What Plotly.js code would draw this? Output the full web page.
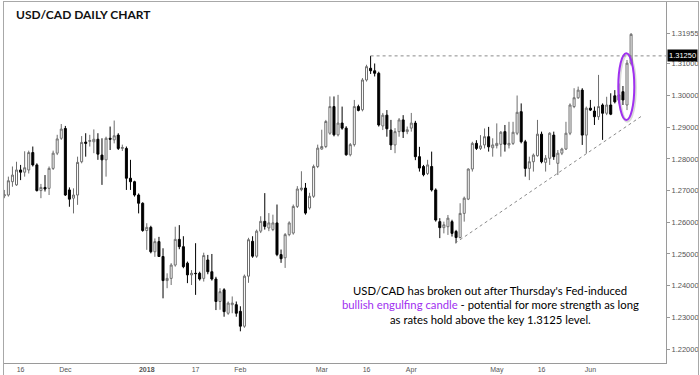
<!DOCTYPE html>
<html><head><meta charset="utf-8">
<script src="https://cdn.plot.ly/plotly-3.0.1.min.js"></script>
<style>
html,body{margin:0;padding:0;background:#fff;}
#wrap{position:relative;width:700px;height:375px;}
#chart{width:700px;height:375px;}
#frame{position:absolute;left:3px;top:1px;width:696px;height:374px;border:1px solid #a8a8a8;border-bottom:none;box-sizing:border-box;pointer-events:none;}
</style></head>
<body><div id="wrap"><div id="chart"></div><div id="frame"></div></div>
<script>
const dates = [
'2017-11-10','2017-11-13','2017-11-14','2017-11-15','2017-11-16','2017-11-17','2017-11-20','2017-11-21','2017-11-22','2017-11-23','2017-11-24','2017-11-27','2017-11-28','2017-11-29','2017-11-30',
'2017-12-01','2017-12-04','2017-12-05','2017-12-06','2017-12-07','2017-12-08','2017-12-11','2017-12-12','2017-12-13','2017-12-14','2017-12-15','2017-12-18','2017-12-19','2017-12-20','2017-12-21','2017-12-22','2017-12-26','2017-12-27','2017-12-28','2017-12-29',
'2018-01-01','2018-01-02','2018-01-03','2018-01-04','2018-01-05','2018-01-08','2018-01-09','2018-01-10','2018-01-11','2018-01-12','2018-01-15','2018-01-16','2018-01-17','2018-01-18','2018-01-19','2018-01-22','2018-01-23','2018-01-24','2018-01-25','2018-01-26','2018-01-29','2018-01-30','2018-01-31',
'2018-02-01','2018-02-02','2018-02-05','2018-02-06','2018-02-07','2018-02-08','2018-02-09','2018-02-12','2018-02-13','2018-02-14','2018-02-15','2018-02-16','2018-02-19','2018-02-20','2018-02-21','2018-02-22','2018-02-23','2018-02-26','2018-02-27','2018-02-28',
'2018-03-01','2018-03-02','2018-03-05','2018-03-06','2018-03-07','2018-03-08','2018-03-09','2018-03-12','2018-03-13','2018-03-14','2018-03-15','2018-03-16','2018-03-19','2018-03-20','2018-03-21','2018-03-22','2018-03-23','2018-03-26','2018-03-27','2018-03-28','2018-03-29','2018-03-30',
'2018-04-02','2018-04-03','2018-04-04','2018-04-05','2018-04-06','2018-04-09','2018-04-10','2018-04-11','2018-04-12','2018-04-13','2018-04-16','2018-04-17','2018-04-18','2018-04-19','2018-04-20','2018-04-23','2018-04-24','2018-04-25','2018-04-26','2018-04-27','2018-04-30',
'2018-05-01','2018-05-02','2018-05-03','2018-05-04','2018-05-07','2018-05-08','2018-05-09','2018-05-10','2018-05-11','2018-05-14','2018-05-15','2018-05-16','2018-05-17','2018-05-18','2018-05-21','2018-05-22','2018-05-23','2018-05-24','2018-05-25','2018-05-28','2018-05-29','2018-05-30','2018-05-31',
'2018-06-01','2018-06-04','2018-06-05','2018-06-06','2018-06-07','2018-06-08','2018-06-11','2018-06-12','2018-06-13','2018-06-14','2018-06-15'];

const open = [1.2683,1.2686,1.2728,1.2718,1.2765,1.2758,1.2765,1.2820,1.2781,1.2700,1.2710,1.2707,1.2770,1.2818,1.2865,
1.2896,1.2702,1.2676,1.2686,1.2791,1.2853,1.2855,1.2854,1.2862,1.2812,1.2797,1.2865,1.2860,1.2875,1.2833,
1.2833,1.2739,1.2728,1.2686,1.2660,1.2574,1.2584,1.2507,1.2539,1.2492,1.2416,1.2423,1.2465,1.2546,1.2523,
1.2471,1.2434,1.2439,1.2439,1.2423,1.2481,1.2444,1.2421,1.2350,1.2387,1.2313,1.2340,1.2340,1.2319,1.2272,
1.2430,1.2540,1.2493,1.2572,1.2603,1.2582,1.2577,1.2598,1.2498,1.2488,1.2561,1.2566,1.2650,1.2703,1.2708,
1.2645,1.2682,1.2776,1.2831,1.2839,1.2881,1.2965,1.2876,1.2913,1.2897,1.2813,1.2845,1.2965,1.2955,1.3049,
1.3086,1.3078,1.3070,1.2904,1.2938,1.2891,1.2844,1.2886,1.2923,1.2886,1.2897,1.2913,1.2807,1.2776,1.2754,
1.2776,1.2702,1.2602,1.2583,1.2586,1.2602,1.2571,1.2552,1.2628,1.2673,1.2768,1.2849,1.2833,1.2844,1.2870,
1.2835,1.2842,1.2846,1.2886,1.2844,1.2849,1.2881,1.2949,1.2854,1.2770,1.2791,1.2810,1.2878,1.2789,1.2802,
1.2875,1.2786,1.2818,1.2831,1.2881,1.2965,1.2993,1.3017,1.2875,1.2960,1.2951,1.2933,1.2970,1.2944,1.2970,
1.2999,1.2985,1.3012,1.2970,1.3102];
const high = [1.2702,1.2744,1.2776,1.2791,1.2781,1.2824,1.2826,1.2839,1.2786,1.2721,1.2749,1.2776,1.2826,1.2876,1.2910,
1.2904,1.2710,1.2707,1.2807,1.2872,1.2881,1.2876,1.2893,1.2881,1.2865,1.2870,1.2902,1.2921,1.2881,1.2845,
1.2839,1.2797,1.2731,1.2691,1.2663,1.2597,1.2589,1.2549,1.2554,1.2518,1.2439,1.2471,1.2586,1.2591,1.2556,
1.2476,1.2449,1.2534,1.2444,1.2504,1.2497,1.2500,1.2428,1.2392,1.2392,1.2350,1.2366,1.2350,1.2335,1.2435,
1.2551,1.2556,1.2577,1.2619,1.2692,1.2629,1.2624,1.2656,1.2514,1.2566,1.2603,1.2656,1.2714,1.2761,1.2724,
1.2693,1.2782,1.2845,1.2892,1.2923,1.2997,1.2997,1.3002,1.2965,1.2903,1.2850,1.2986,1.2971,1.3055,1.3097,
1.3125,1.3101,1.3075,1.2945,1.2954,1.2923,1.2897,1.2929,1.2938,1.2902,1.2945,1.2920,1.2838,1.2781,1.2797,
1.2823,1.2707,1.2613,1.2602,1.2623,1.2608,1.2576,1.2660,1.2681,1.2770,1.2854,1.2859,1.2875,1.2896,1.2901,
1.2865,1.2912,1.2888,1.2907,1.2917,1.2917,1.3000,1.2975,1.2860,1.2807,1.2817,1.2923,1.2886,1.2812,1.2884,
1.2886,1.2828,1.2835,1.2917,1.2975,1.3023,1.3028,1.3023,1.2965,1.2986,1.2965,1.3065,1.2975,1.2996,1.3007,
1.3017,1.3038,1.3030,1.3112,1.3197];
const low = [1.2676,1.2681,1.2712,1.2715,1.2733,1.2744,1.2754,1.2776,1.2697,1.2676,1.2697,1.2686,1.2765,1.2812,1.2860,
1.2683,1.2649,1.2628,1.2655,1.2786,1.2807,1.2839,1.2818,1.2797,1.2718,1.2744,1.2828,1.2849,1.2828,1.2825,
1.2702,1.2702,1.2681,1.2628,1.2570,1.2513,1.2502,1.2491,1.2491,1.2360,1.2392,1.2402,1.2460,1.2515,1.2455,
1.2408,1.2402,1.2371,1.2416,1.2413,1.2436,1.2416,1.2323,1.2324,1.2302,1.2308,1.2313,1.2302,1.2256,1.2267,
1.2409,1.2488,1.2488,1.2566,1.2577,1.2572,1.2572,1.2493,1.2472,1.2456,1.2556,1.2561,1.2645,1.2698,1.2624,
1.2640,1.2677,1.2771,1.2829,1.2834,1.2876,1.2871,1.2871,1.2892,1.2810,1.2808,1.2839,1.2950,1.2950,1.3044,
1.3068,1.3060,1.2902,1.2891,1.2870,1.2828,1.2818,1.2870,1.2866,1.2878,1.2886,1.2796,1.2760,1.2745,1.2749,
1.2697,1.2602,1.2550,1.2565,1.2560,1.2555,1.2534,1.2549,1.2602,1.2670,1.2760,1.2828,1.2828,1.2833,1.2823,
1.2807,1.2833,1.2807,1.2823,1.2833,1.2844,1.2875,1.2849,1.2744,1.2733,1.2760,1.2807,1.2786,1.2760,1.2781,
1.2797,1.2749,1.2812,1.2828,1.2875,1.2960,1.2989,1.2844,1.2817,1.2951,1.2907,1.2923,1.2860,1.2938,1.2938,
1.2975,1.2975,1.2970,1.2954,1.3095];
const close = [1.2687,1.2731,1.2749,1.2765,1.2758,1.2772,1.2820,1.2781,1.2700,1.2710,1.2705,1.2770,1.2818,1.2863,1.2894,
1.2686,1.2673,1.2686,1.2789,1.2852,1.2849,1.2858,1.2862,1.2815,1.2797,1.2865,1.2862,1.2873,1.2833,1.2836,
1.2739,1.2728,1.2686,1.2660,1.2574,1.2584,1.2507,1.2539,1.2492,1.2416,1.2423,1.2465,1.2546,1.2523,1.2460,
1.2434,1.2439,1.2438,1.2421,1.2495,1.2444,1.2421,1.2350,1.2381,1.2318,1.2345,1.2345,1.2313,1.2272,1.2430,
1.2545,1.2493,1.2572,1.2603,1.2587,1.2598,1.2598,1.2498,1.2485,1.2561,1.2598,1.2650,1.2705,1.2708,1.2629,
1.2682,1.2776,1.2834,1.2839,1.2918,1.2965,1.2876,1.2913,1.2897,1.2813,1.2845,1.2965,1.2953,1.3049,1.3091,
1.3078,1.3070,1.2907,1.2938,1.2895,1.2844,1.2886,1.2923,1.2886,1.2892,1.2913,1.2807,1.2771,1.2750,1.2781,
1.2702,1.2607,1.2583,1.2592,1.2613,1.2565,1.2552,1.2628,1.2676,1.2768,1.2849,1.2833,1.2841,1.2870,1.2838,
1.2844,1.2849,1.2884,1.2846,1.2849,1.2884,1.2947,1.2854,1.2770,1.2791,1.2812,1.2878,1.2791,1.2802,1.2881,
1.2807,1.2818,1.2831,1.2881,1.2970,1.2993,1.3017,1.2875,1.2960,1.2954,1.2933,1.2965,1.2944,1.2970,1.2941,
1.2980,1.3002,1.2986,1.3102,1.3193];

const tickDates = ['2017-11-16','2017-12-01','2018-01-01','2018-01-17','2018-02-01','2018-03-01','2018-03-16','2018-04-02','2018-05-01','2018-05-16','2018-06-01'];
const tickLabels = ['16','Dec','<b>2018</b>','17','Feb','Mar','16','Apr','May','16','Jun'];
const priceTicks = [1.22,1.23,1.24,1.25,1.26,1.27,1.28,1.29,1.30,1.31,1.31955];
const priceLabels = ['1.22000','1.23000','1.24000','1.25000','1.26000','1.27000','1.28000','1.29000','1.30000','1.31000','1.31955'];
const keyLevel = 1.3125;
const keyLabel = '1.31250';
const highIdx = 90;
const trendStart = [110.74, 1.2534];
const trendEnd = [156.93, 1.2938];
const ellipse = {x0: 150.86, x1: 154.79, y0: 1.2923, y1: 1.3133};
const purple = '#a030f0';
const noteLines = [
  "USD/CAD has broken out after Thursday's Fed-induced",
  "<span style='color:" + purple + "'>bullish engulfing candle</span> - potential for more strength as long",
  "as rates hold above the key 1.3125 level."
];
const notePx = [290, 304.5, 319];

const trace = {
  type: 'candlestick', x: dates, open: open, high: high, low: low, close: close,
  increasing: {line: {color: '#6e6e6e', width: 1}, fillcolor: '#ffffff'},
  decreasing: {line: {color: '#000000', width: 1}, fillcolor: '#000000'},
  whiskerwidth: 0, hoverinfo: 'skip', showlegend: false
};

const xRange = [-0.074, 162.58];
const ann = [
  {xref: 'paper', yref: 'y', x: 1, xanchor: 'left', y: keyLevel, yanchor: 'middle', text: keyLabel, showarrow: false,
   bgcolor: '#000000', borderpad: 1, xshift: 1, font: {family: 'Liberation Sans, Arial, sans-serif', size: 7.5, color: '#ffffff'}}
];
noteLines.forEach(function (t, i) {
  ann.push({xref: 'paper', yref: 'paper', x: (490 - 4) / 662, y: 1 - (notePx[i] - 2) / 361, xanchor: 'center', yanchor: 'middle',
            showarrow: false, text: t, font: {family: 'Lato, sans-serif', size: 11.3, color: '#000000'}});
});

const layout = {
  width: 700, height: 375,
  margin: {l: 4, r: 34, t: 2, b: 12, pad: 0},
  paper_bgcolor: '#ffffff', plot_bgcolor: '#ffffff',
  showlegend: false,
  title: {text: '<b>USD/CAD DAILY CHART</b>', xref: 'container', yref: 'container', x: 16/700, xanchor: 'left', y: 1 - 14.5/375, yanchor: 'middle',
          font: {family: 'Lato, sans-serif', size: 12, color: '#111111'}},
  xaxis: {type: 'category', range: xRange, rangeslider: {visible: false}, showgrid: false, zeroline: false,
          tickmode: 'array', tickvals: tickDates, ticktext: tickLabels, ticks: '',
          tickfont: {family: 'Liberation Sans, Arial, sans-serif', size: 7, color: '#555'},
          showline: true, linecolor: '#9a9a9a', linewidth: 1, mirror: true, fixedrange: true},
  yaxis: {side: 'right', range: [1.2156, 1.3295], showgrid: false, zeroline: false,
          tickmode: 'array', tickvals: priceTicks, ticktext: priceLabels, ticks: 'outside', ticklen: 3, tickcolor: '#999',
          tickfont: {family: 'Liberation Sans, Arial, sans-serif', size: 7.5, color: '#555'},
          showline: true, linecolor: '#9a9a9a', linewidth: 1, mirror: true, fixedrange: true},
  shapes: [
    {type: 'line', xref: 'x', yref: 'y', x0: highIdx, x1: xRange[1], y0: keyLevel, y1: keyLevel,
     line: {color: '#8a8a8a', width: 1, dash: 'dot'}},
    {type: 'line', xref: 'x', yref: 'y', x0: trendStart[0], y0: trendStart[1], x1: trendEnd[0], y1: trendEnd[1],
     line: {color: '#8a8a8a', width: 1, dash: '3px,3px'}},
    {type: 'circle', xref: 'x', yref: 'y', x0: ellipse.x0 + 0.25, x1: ellipse.x1 + 0.25, y0: ellipse.y0 - 0.0004, y1: ellipse.y1 - 0.0004,
     line: {color: 'rgba(0,0,0,0.15)', width: 3}},
    {type: 'circle', xref: 'x', yref: 'y', x0: ellipse.x0, x1: ellipse.x1, y0: ellipse.y0, y1: ellipse.y1,
     line: {color: purple, width: 2}}
  ],
  annotations: ann
};

Plotly.newPlot('chart', [trace], layout, {displayModeBar: false, staticPlot: true});
</script></body></html>
